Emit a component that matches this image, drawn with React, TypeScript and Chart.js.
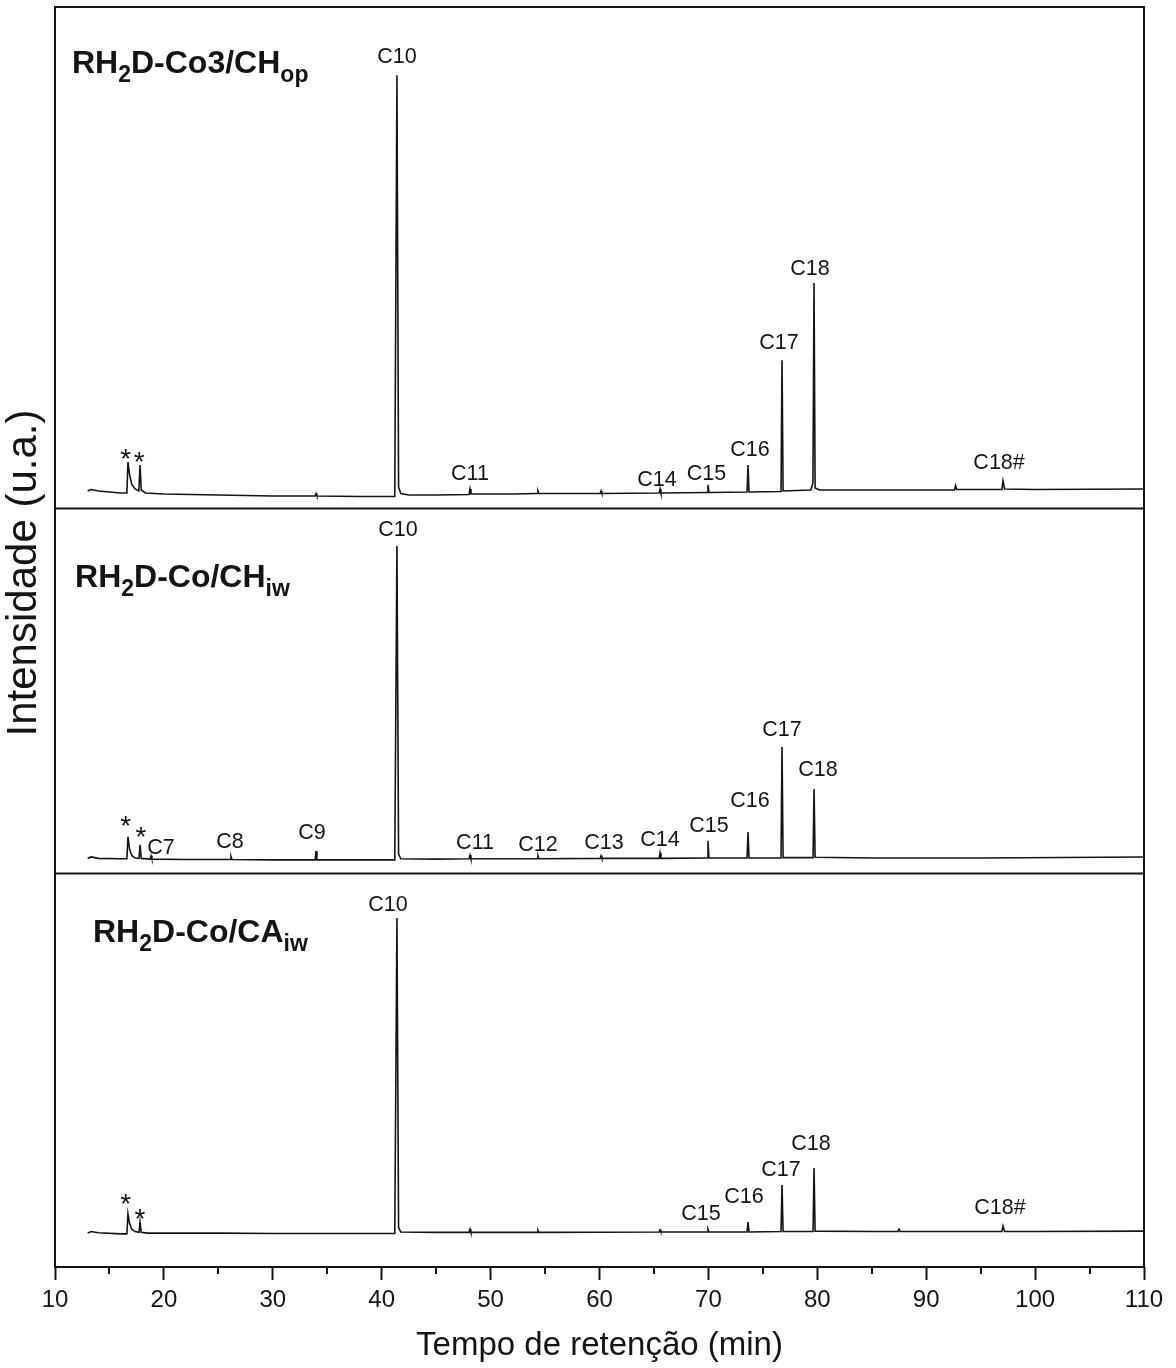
import { useEffect, useRef } from 'react';
import { Chart, registerables } from 'chart.js';

Chart.register(...registerables);

const FONT = "'Liberation Sans', Arial, Helvetica, sans-serif";
const INK = '#141414';

// Retention-time axis
const X_MIN = 10;
const X_MAX = 110;
const X_STEP = 10;
const minorTicks = [15, 25, 35, 45, 55, 65, 75, 85, 95, 105];

// Chromatogram traces: [retention time (min), intensity (a.u., per panel 0..100)]
const traceCo3CHop: [number, number][] = [
  [13.0, 3.4], [13.3, 3.7], [14, 3.4], [15, 3.2], [16, 3.0], [16.6, 3.0],
  [16.7, 9.2], [16.85, 6.6], [17.05, 4.7], [17.35, 3.8], [17.7, 3.4],
  [17.81, 8.6], [17.92, 3.6], [18.3, 3.0], [20, 2.8], [25, 2.6], [30, 2.4],
  [33.9, 2.4], [33.97, 2.9], [34.05, 2.4], [38, 2.3], [41.2, 2.3],
  [41.4, 86.4], [41.55, 4.2], [41.75, 2.9], [42.5, 2.6], [45, 2.6],
  [48.02, 2.7], [48.11, 3.8], [48.2, 2.8], [52, 2.8], [54.27, 2.9],
  [54.35, 3.4], [54.43, 2.9], [60.06, 2.9], [60.14, 3.4], [60.22, 2.9],
  [65.48, 3.0], [65.56, 3.8], [65.64, 3.0], [69.88, 3.1], [69.96, 4.6],
  [70.05, 3.1], [73.55, 3.2], [73.64, 8.6], [73.73, 3.2], [76.67, 3.3],
  [76.76, 29.5], [76.86, 3.4], [79.4, 3.6], [79.6, 5.0], [79.7, 44.9],
  [79.8, 4.0], [80.2, 3.6], [85, 3.6], [90, 3.6], [92.6, 3.6], [92.7, 4.5],
  [92.8, 3.7], [96.95, 3.7], [97.05, 5.4], [97.2, 3.8], [100, 3.7],
  [110, 3.8],
];

const traceCoCHiw: [number, number][] = [
  [13.0, 4.0], [13.3, 4.4], [14, 4.0], [16, 3.9], [16.6, 3.9], [16.7, 9.9],
  [16.85, 6.5], [17.05, 4.8], [17.35, 4.1], [17.72, 4.0], [17.81, 7.7],
  [17.92, 4.0], [18.74, 3.8], [18.82, 4.7], [18.9, 3.8], [22, 3.7],
  [26.08, 3.7], [26.16, 4.5], [26.24, 3.7], [30, 3.6], [33.89, 3.6],
  [33.97, 6.0], [34.05, 3.6], [38, 3.6], [41.2, 3.6], [41.4, 89.6],
  [41.55, 5.2], [41.75, 3.9], [45, 3.8], [48.03, 3.9], [48.11, 4.9],
  [48.19, 3.9], [54.27, 3.9], [54.35, 4.7], [54.43, 3.9], [60.06, 4.0],
  [60.14, 4.7], [60.22, 4.0], [65.48, 4.0], [65.56, 5.5], [65.64, 4.0],
  [69.88, 4.1], [69.96, 8.8], [70.05, 4.1], [73.55, 4.1], [73.64, 11.2],
  [73.73, 4.1], [76.67, 4.1], [76.76, 34.5], [76.86, 4.2], [79.61, 4.2],
  [79.7, 23.0], [79.8, 4.3], [85, 4.1], [95, 4.1], [110, 4.4],
];

const traceCoCAiw: [number, number][] = [
  [13.0, 8.6], [13.3, 9.0], [14, 8.7], [16, 8.4], [16.6, 8.4], [16.7, 13.5],
  [16.85, 11.0], [17.05, 9.6], [17.35, 9.0], [17.72, 8.8], [17.81, 11.4],
  [17.92, 8.8], [18.5, 8.6], [20, 8.6], [25, 8.6], [30, 8.5], [38, 8.5],
  [41.2, 8.5], [41.4, 88.6], [41.55, 10.0], [41.75, 8.9], [45, 8.8],
  [48.03, 8.8], [48.11, 9.6], [48.19, 8.8], [54.27, 8.8], [54.35, 9.3],
  [54.43, 8.8], [65.48, 8.9], [65.56, 9.4], [65.64, 8.9], [69.88, 8.9],
  [69.96, 9.6], [70.05, 8.9], [73.55, 8.9], [73.64, 11.4], [73.73, 8.9],
  [76.67, 9.0], [76.76, 20.8], [76.86, 9.0], [79.61, 9.0], [79.7, 25.1],
  [79.8, 9.1], [85, 9.0], [87.4, 9.0], [87.5, 9.6], [87.6, 9.0],
  [96.95, 9.0], [97.05, 10.4], [97.2, 9.0], [100, 9.0], [110, 9.1],
];

// Peak annotations: label text at (retention time, intensity)
type PeakLabel = { text: string; t: number; v: number };

const labelsCo3CHop: PeakLabel[] = [
  { text: '*', t: 16.49, v: 9.6 },
  { text: '*', t: 17.74, v: 8.9 },
  { text: 'C10', t: 41.4, v: 90.0 },
  { text: 'C11', t: 48.11, v: 6.8 },
  { text: 'C14', t: 65.28, v: 5.6 },
  { text: 'C15', t: 69.83, v: 6.8 },
  { text: 'C16', t: 73.82, v: 11.6 },
  { text: 'C17', t: 76.48, v: 32.9 },
  { text: 'C18', t: 79.33, v: 47.7 },
  { text: 'C18#', t: 96.69, v: 9.0 },
];

const labelsCoCHiw: PeakLabel[] = [
  { text: '*', t: 16.49, v: 12.6 },
  { text: '*', t: 17.9, v: 9.4 },
  { text: 'C7', t: 19.73, v: 6.8 },
  { text: 'C8', t: 26.07, v: 8.5 },
  { text: 'C9', t: 33.6, v: 11.0 },
  { text: 'C10', t: 41.5, v: 94.0 },
  { text: 'C11', t: 48.57, v: 8.2 },
  { text: 'C12', t: 54.35, v: 7.7 },
  { text: 'C13', t: 60.41, v: 8.2 },
  { text: 'C14', t: 65.56, v: 9.0 },
  { text: 'C15', t: 70.06, v: 12.9 },
  { text: 'C16', t: 73.82, v: 19.7 },
  { text: 'C17', t: 76.76, v: 39.2 },
  { text: 'C18', t: 80.07, v: 28.2 },
];

const labelsCoCAiw: PeakLabel[] = [
  { text: '*', t: 16.5, v: 15.7 },
  { text: '*', t: 17.8, v: 11.9 },
  { text: 'C10', t: 40.58, v: 91.9 },
  { text: 'C15', t: 69.32, v: 13.5 },
  { text: 'C16', t: 73.27, v: 17.8 },
  { text: 'C17', t: 76.67, v: 24.6 },
  { text: 'C18', t: 79.42, v: 31.2 },
  { text: 'C18#', t: 96.78, v: 15.0 },
];

// Sample names: [text, subscript?] segments
type Segment = [string, boolean];
const nameCo3CHop: Segment[] = [['RH', false], ['2', true], ['D-Co3/CH', false], ['op', true]];
const nameCoCHiw: Segment[] = [['RH', false], ['2', true], ['D-Co/CH', false], ['iw', true]];
const nameCoCAiw: Segment[] = [['RH', false], ['2', true], ['D-Co/CA', false], ['iw', true]];

type Panel = {
  axis: string;
  trace: [number, number][];
  labels: PeakLabel[];
  name: Segment[];
  nameAt: [number, number];
  weight: number;
};

const panels: Panel[] = [
  { axis: 'yA', trace: traceCo3CHop, labels: labelsCo3CHop, name: nameCo3CHop, nameAt: [11.56, 86.8], weight: 501 },
  { axis: 'yB', trace: traceCoCHiw, labels: labelsCoCHiw, name: nameCoCHiw, nameAt: [11.84, 78.4], weight: 365 },
  { axis: 'yC', trace: traceCoCAiw, labels: labelsCoCAiw, name: nameCoCAiw, nameAt: [13.49, 82.5], weight: 394 },
];

const X_TITLE = 'Tempo de retenção (min)';
const Y_TITLE = 'Intensidade (u.a.)';

const decorations = {
  id: 'chromDecor',
  afterDraw(chart: any) {
    const { ctx, chartArea: a } = chart;
    const xs = chart.scales.x;
    ctx.save();

    // frame and panel separators
    ctx.strokeStyle = INK;
    ctx.lineWidth = 2;
    ctx.strokeRect(a.left, a.top, a.right - a.left, a.bottom - a.top);
    for (const key of ['yA', 'yB']) {
      const y = Math.round(chart.scales[key].bottom) + 0.5;
      ctx.beginPath();
      ctx.moveTo(a.left, y);
      ctx.lineTo(a.right, y);
      ctx.stroke();
    }

    // minor ticks on the time axis
    for (const m of minorTicks) {
      const px = Math.round(xs.getPixelForValue(m));
      ctx.beginPath();
      ctx.moveTo(px, a.bottom);
      ctx.lineTo(px, a.bottom + 7);
      ctx.stroke();
    }

    ctx.fillStyle = INK;
    for (const p of panels) {
      const ys = chart.scales[p.axis];
      // peak labels
      ctx.textAlign = 'center';
      ctx.textBaseline = 'middle';
      for (const l of p.labels) {
        ctx.font = l.text === '*' ? `28px ${FONT}` : `21.5px ${FONT}`;
        ctx.fillText(l.text, xs.getPixelForValue(l.t), ys.getPixelForValue(l.v));
      }
      // sample name
      ctx.textAlign = 'left';
      ctx.textBaseline = 'alphabetic';
      let cx = xs.getPixelForValue(p.nameAt[0]);
      const by = ys.getPixelForValue(p.nameAt[1]);
      for (const [txt, sub] of p.name) {
        ctx.font = sub ? `bold 23px ${FONT}` : `bold 32px ${FONT}`;
        ctx.fillText(txt, cx, sub ? by + 9 : by);
        cx += ctx.measureText(txt).width;
      }
    }

    // intensity axis title
    ctx.translate(24, 573);
    ctx.rotate(-Math.PI / 2);
    ctx.font = `42px ${FONT}`;
    ctx.textAlign = 'center';
    ctx.textBaseline = 'middle';
    ctx.fillText(Y_TITLE, 0, 0);
    ctx.restore();
  },
};

export default function App() {
  const ref = useRef<HTMLCanvasElement | null>(null);

  useEffect(() => {
    document.body.style.margin = '0';
    const canvas = ref.current;
    if (!canvas) return;

    const hiddenY = (axisWeight: number, stackWeight: number) => ({
      type: 'linear' as const,
      position: 'left' as const,
      stack: 'panels',
      stackWeight,
      weight: axisWeight,
      min: 0,
      max: 100,
      offset: false,
      ticks: { display: false },
      grid: { display: false, drawTicks: false },
      border: { display: false },
      afterFit: (s: any) => {
        s.width = 55;
      },
    });

    const chart = new Chart(canvas, {
      type: 'line',
      data: {
        datasets: panels.map((p) => ({
          data: p.trace.map(([x, y]) => ({ x, y })),
          xAxisID: 'x',
          yAxisID: p.axis,
          borderColor: INK,
          borderWidth: 1.6,
          pointRadius: 0,
          fill: false,
          tension: 0,
        })),
      },
      options: {
        responsive: false,
        animation: false,
        parsing: true,
        layout: { padding: { top: 7, bottom: 2, left: 0, right: 0 } },
        plugins: { legend: { display: false }, tooltip: { enabled: false } },
        scales: {
          x: {
            type: 'linear',
            position: 'bottom',
            min: X_MIN,
            max: X_MAX,
            ticks: {
              stepSize: X_STEP,
              autoSkip: false,
              maxRotation: 0,
              padding: 6,
              color: INK,
              font: { family: FONT, size: 24 },
            },
            grid: {
              display: true,
              drawOnChartArea: false,
              drawTicks: true,
              tickLength: 13,
              tickWidth: 2,
              tickColor: INK,
            },
            border: { display: false },
            title: {
              display: true,
              text: X_TITLE,
              color: INK,
              padding: { top: 0, bottom: 0 },
              font: { family: FONT, size: 33 },
            },
            afterFit: (s: any) => {
              s.height = 99;
            },
          },
          yC: hiddenY(1, panels[2].weight),
          yB: hiddenY(2, panels[1].weight),
          yA: hiddenY(3, panels[0].weight),
          yR: {
            type: 'linear',
            position: 'right',
            display: true,
            ticks: { display: false },
            grid: { display: false, drawTicks: false },
            border: { display: false },
            afterFit: (s: any) => {
              s.width = 32;
            },
          },
        },
      },
      plugins: [decorations],
    } as any);

    return () => chart.destroy();
  }, []);

  return (
    <div style={{ width: 1176, height: 1368, background: '#fff' }}>
      <canvas ref={ref} width={1176} height={1368} style={{ display: 'block' }} />
    </div>
  );
}
